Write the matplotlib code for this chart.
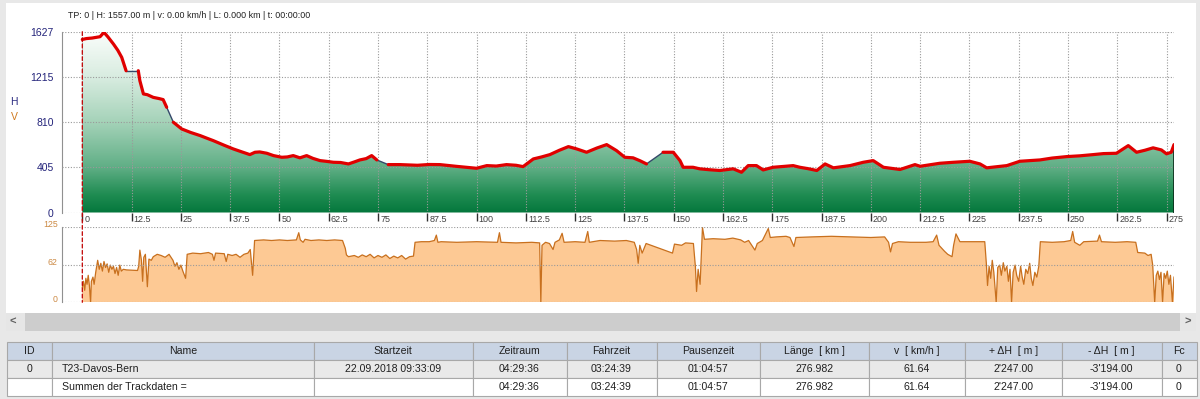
import matplotlib.pyplot as plt
import numpy as np
from matplotlib.colors import LinearSegmentedColormap
from matplotlib.patches import Rectangle, ConnectionPatch
from matplotlib.transforms import ScaledTranslation

plt.rcParams['font.family'] = ['Liberation Sans', 'DejaVu Sans']

# elevation profile (km, m)
elev_km = [0, 1.0, 2.5, 4.5, 5.5, 6.5, 7.9, 9.0, 10.0, 11.1, 14.2, 14.6, 15.5, 16.5, 18.0,
           19.5, 20.5, 21.4, 23.1, 25.2, 27.5, 29.9, 31.5, 33.2, 36.0, 38.3, 40.5, 42.5, 43.8,
           45.0, 46.8, 48.5, 50.6, 52.0, 53.5, 55.2, 56.9, 58.5, 60.3, 62.0, 63.7, 65.5, 67.5,
           69.0, 70.4, 72.0, 73.4, 74.7, 77.6, 80.6, 85.0, 88.0, 90.7, 95.0, 100.0, 102.6, 105.0,
           107.6, 110.0, 111.8, 114.4, 116.5, 118.6, 121.0, 123.3, 125.4, 127.9, 130.5, 133.0,
           135.5, 137.6, 139.7, 141.5, 143.1, 147.3, 149.9, 151.6, 152.4, 154.9, 156.6, 159.0,
           161.7, 165.1, 167.2, 168.9, 171.0, 172.7, 175.2, 178.0, 180.3, 182.0, 184.0, 186.3,
           188.4, 190.5, 194.7, 198.1, 200.6, 203.2, 207.4, 211.2, 212.5, 217.5, 221.0, 225.1,
           227.7, 229.4, 234.5, 237.8, 242.9, 246.0, 249.7, 253.0, 256.4, 259.0, 262.3, 265.3,
           267.4, 269.5, 271.6, 273.7, 275.0, 276.2, 276.9]
elev_m = [1557, 1565, 1570, 1582, 1621, 1580, 1516, 1460, 1396, 1276, 1276, 1186, 1067, 1060, 1036,
          1025, 1016, 947, 812, 752, 720, 692, 670, 647, 605, 572, 545, 521, 542,
          545, 533, 512, 497, 500, 512, 492, 512, 487, 467, 460, 452, 450, 437,
          455, 473, 485, 512, 473, 431, 431, 425, 432, 431, 415, 398, 422, 418,
          431, 425, 413, 482, 500, 521, 560, 593, 572, 542, 580, 611,
          557, 497, 492, 465, 437, 542, 542, 467, 407, 407, 393, 385,
          378, 393, 362, 422, 422, 383, 407, 415, 422, 407, 395, 378,
          437, 402, 422, 452, 467, 407, 387, 431, 416, 443, 452, 461,
          437, 402, 422, 461, 473, 490, 503, 510, 521, 530, 533, 602,
          542, 560, 582, 563, 528, 542, 611]
# km positions where the track has a gap (thin connector to the next point)
gap_starts = [11.1, 21.4, 74.7, 143.1]

# speed profile (km, km/h)
speed_km = [0.0, 0.3, 0.6, 0.9, 1.2, 1.5, 1.8, 2.1, 2.3, 2.7, 3.0, 3.4, 3.9, 4.3, 4.7, 5.1, 5.5,
            5.9, 6.3, 6.7, 7.1, 7.5, 7.9, 8.3, 8.7, 9.1, 9.5, 9.9, 10.4, 11.2, 14.0, 14.3, 14.6,
            15.0, 15.3, 15.6, 16.0, 16.5, 16.9, 17.5, 18.0, 19.0, 20.0, 21.0, 22.0, 23.0, 23.5,
            24.0, 24.5, 25.0, 25.5, 26.2, 26.6, 28.0, 30.0, 32.0, 33.0, 33.4, 33.8, 36.0, 36.5,
            36.9, 38.0, 39.0, 40.0, 41.0, 42.0, 42.6, 43.2, 43.7, 46.0, 48.0, 50.0, 52.0, 54.3,
            54.9, 55.3, 56.0, 56.5, 58.0, 60.0, 62.0, 64.0, 66.0, 66.7, 67.0, 67.5, 69.0, 70.0,
            71.0, 72.0, 73.0, 74.0, 75.0, 76.0, 77.0, 78.0, 79.0, 80.0, 81.0, 82.0, 83.0, 84.0,
            84.4, 86.0, 88.0, 89.3, 89.8, 90.2, 91.0, 95.0, 100.0, 105.3, 105.8, 106.2, 110.0,
            114.0, 116.0, 116.3, 116.6, 117.5, 118.5, 119.4, 119.9, 121.0, 121.7, 122.2, 125.0,
            127.5, 128.2, 128.6, 131.3, 135.0, 138.0, 140.0, 140.6, 141.0, 141.4, 142.0, 143.0,
            149.7, 150.2, 152.0, 153.0, 155.0, 155.5, 155.8, 156.2, 156.7, 157.3, 157.8, 160.0,
            163.0, 165.0, 167.0, 168.0, 169.0, 170.6, 171.2, 172.5, 174.0, 174.5, 176.0, 178.5,
            179.5, 180.5, 181.0, 185.0, 190.0, 195.0, 200.0, 203.5, 204.5, 205.0, 205.5, 207.0,
            210.0, 214.0, 215.8, 216.7, 217.3, 218.7, 219.5, 220.6, 221.0, 221.6, 222.6, 225.0,
            228.9, 229.3, 229.6, 230.0, 230.4, 230.8, 231.2, 231.8, 232.2, 232.7, 233.1, 233.6,
            234.0, 234.5, 234.9, 235.3, 235.7, 236.1, 236.6, 237.0, 237.5, 238.0, 238.4, 238.8,
            239.3, 239.8, 240.3, 240.7, 241.1, 241.6, 242.1, 242.6, 243.0, 246.0, 249.0, 250.7,
            251.2, 251.7, 253.0, 254.0, 257.5, 258.0, 258.5, 262.0, 265.0, 267.2, 267.7, 269.5,
            270.3, 271.1, 271.5, 272.0, 272.4, 272.8, 273.2, 273.6, 274.0, 274.4, 274.8, 275.2,
            275.6, 276.0, 276.5, 276.9]
speed_v = [25, 35, 20, 40, 30, 45, 28, 0, 35, 42, 30, 50, 70, 55, 65, 52, 68,
           58, 64, 50, 62, 55, 60, 48, 58, 45, 62, 52, 55, 54, 53, 60, 87,
           70, 35, 75, 80, 26, 72, 70, 76, 80, 78, 75, 80, 70, 60,
           66, 55, 62, 52, 40, 80, 82, 81, 83, 80, 70, 82, 81, 68,
           80, 78, 80, 75, 80, 82, 88, 45, 103, 104, 103, 104, 103, 104,
           116, 104, 100, 105, 103, 104, 103, 104, 103, 90, 79, 76, 78, 75,
           79, 76, 80, 74, 78, 75, 79, 73, 77, 74, 78, 72, 76, 77,
           100, 101, 101, 103, 112, 100, 101, 100, 101, 100, 116, 100, 99,
           100, 99, 0, 95, 100, 98, 88, 100, 104, 115, 100, 101,
           100, 118, 100, 103, 102, 103, 100, 88, 65, 95, 82, 98,
           82, 97, 95, 99, 98, 60, 18, 55, 30, 125, 105, 106,
           105, 107, 104, 100, 103, 87, 98, 103, 123, 108, 109, 110,
           108, 93, 108, 109, 110, 109, 108, 109, 100, 84, 98, 101,
           100, 100, 101, 112, 95, 85, 80, 76, 95, 114, 101, 101,
           101, 65, 28, 60, 40, 70, 50, 0, 58, 62, 45, 66,
           52, 60, 35, 55, 0, 50, 62, 45, 35, 60, 42, 30,
           55, 48, 65, 40, 28, 50, 42, 60, 101, 100, 101, 103,
           118, 100, 95, 101, 102, 112, 101, 100, 101, 100, 83, 82,
           78, 80, 62, 0, 45, 52, 38, 50, 0, 48, 40, 52,
           30, 45, 0, 42]

elev_ticks = [0, 405, 810, 1215, 1627]
speed_ticks = [0, 62, 125]
km_ticks = np.arange(0, 276, 12.5)

status_text = "TP: 0 | H: 1557.00 m | v: 0.00 km/h | L: 0.000 km | t: 00:00:00"

table_header = ["ID", "Name", "Startzeit", "Zeitraum", "Fahrzeit", "Pausenzeit",
                "Länge  [ km ]", "v  [ km/h ]", "+ ΔH  [ m ]", "- ΔH  [ m ]", "Fc"]
table_row1 = ["0", "T23-Davos-Bern", "22.09.2018 09:33:09", "04:29:36", "03:24:39", "01:04:57",
              "276.982", "61.64", "2'247.00", "-3'194.00", "0"]
table_row2 = ["", "Summen der Trackdaten =", "", "04:29:36", "03:24:39", "01:04:57",
              "276.982", "61.64", "2'247.00", "-3'194.00", "0"]
col_edges = [7, 52, 314, 472.5, 566.5, 656.5, 760, 869, 965, 1061.5, 1161.5, 1196.5]

W, H = 1200, 399
fig = plt.figure(figsize=(12, 3.99), dpi=100, facecolor='#e8e8e8')


def px_axes(x0, y0, x1, y1):
    return fig.add_axes([x0 / W, 1 - y1 / H, (x1 - x0) / W, (y1 - y0) / H])


# background panel, scrollbar and table in pixel space
bg = px_axes(0, 0, W, H)
bg.set_xlim(0, W)
bg.set_ylim(H, 0)
bg.axis('off')
bg.set_zorder(0)
bg.add_patch(Rectangle((6, 3), 1190, 310, facecolor='white', edgecolor='none'))
bg.add_patch(Rectangle((6, 313), 1190, 18, facecolor='#e6e6e6', edgecolor='none'))
bg.add_patch(Rectangle((25, 313), 1155, 18, facecolor='#cdcdcd', edgecolor='none'))
bg.text(13, 322, "<", ha='center', va='center', fontsize=8, color='#606060', fontweight='bold')
bg.text(1188, 322, ">", ha='center', va='center', fontsize=8, color='#606060', fontweight='bold')

row_tops = [342, 360, 378]
row_h = 18
row_colors = ['#c9d4e4', '#e9e9e9', 'white']
for r, (vals, top, fc) in enumerate(zip([table_header, table_row1, table_row2], row_tops, row_colors)):
    for c, val in enumerate(vals):
        x0, x1 = col_edges[c], col_edges[c + 1]
        bg.add_patch(Rectangle((x0, top), x1 - x0, row_h, facecolor=fc,
                               edgecolor='#a8a8a8', lw=0.8))
        if c == 1 and r > 0:
            bg.text(x0 + 10, top + row_h / 2, val, ha='left', va='center',
                    fontsize=7.6, color='#202020')
        else:
            bg.text((x0 + x1) / 2, top + row_h / 2, val, ha='center', va='center',
                    fontsize=7.6, color='#202020')

fig.text(68 / W, 1 - 15 / H, status_text, fontsize=6.4, color='#202020', va='center')
fig.text(14 / W, 1 - 102 / H, "H", fontsize=7.5, color='#2a2a80', ha='center', va='center')
fig.text(14 / W, 1 - 117 / H, "V", fontsize=7.5, color='#d07a20', ha='center', va='center')

grid_kw = dict(color='#9a9a9a', linestyle=(0, (1, 1.5)), linewidth=0.8)

# elevation chart
ax_e = px_axes(62, 31.7, 1174, 212.5)
ax_e.set_zorder(1)
ax_e.set_facecolor('none')
ax_e.set_xlim(-5.15, 276.9)
ax_e.set_ylim(0, 1627)

cmap = LinearSegmentedColormap.from_list('elev', [
    (0.0, '#04773c'), (0.1, '#1f8c52'), (0.25, '#5fae85'), (0.5, '#a4d2b8'),
    (0.75, '#d8ece0'), (1.0, '#fafdfb')])
poly = ax_e.fill_between(elev_km, elev_m, 0, facecolor='none', edgecolor='none')
grad = np.linspace(0, 1, 256).reshape(-1, 1)
img = ax_e.imshow(grad, extent=[0, elev_km[-1], 0, 1627], aspect='auto', origin='lower',
                  cmap=cmap, zorder=1)
img.set_clip_path(poly.get_paths()[0], transform=ax_e.transData)
ax_e.vlines(elev_km[-1], 0, elev_m[-1], color='#0c2a1a', lw=1.2, zorder=4)

# red track with thin connectors over gaps
start = 0
for i, k in enumerate(elev_km):
    if k in gap_starts:
        ax_e.plot(elev_km[start:i + 1], elev_m[start:i + 1], color='#e00000', lw=2.3,
                  solid_capstyle='round', solid_joinstyle='round', zorder=5)
        ax_e.plot(elev_km[i:i + 2], elev_m[i:i + 2], color='#34486a', lw=1.0, zorder=4)
        start = i + 1
ax_e.plot(elev_km[start:], elev_m[start:], color='#e00000', lw=2.3,
          solid_capstyle='round', solid_joinstyle='round', zorder=5)

ax_e.set_xticks(km_ticks)
ax_e.set_yticks(elev_ticks)
ax_e.set_yticklabels([str(t) for t in elev_ticks])
ax_e.grid(True, zorder=3, **grid_kw)
ax_e.set_axisbelow(False)
ax_e.tick_params(axis='x', direction='out', length=6, width=1, color='#303030', labelbottom=False)
ax_e.tick_params(axis='y', length=0, pad=6, labelsize=7.5, labelcolor='#23237a')
for s in ['top', 'right', 'bottom']:
    ax_e.spines[s].set_visible(False)
ax_e.spines['left'].set_color('#909090')
ax_e.spines['left'].set_linewidth(0.8)
for t in km_ticks:
    ax_e.annotate(f"{t:g}", xy=(t, 0), xycoords='data', xytext=(1.5, -1.5),
                  textcoords='offset points', ha='left', va='top', fontsize=6.5,
                  color='#404040', annotation_clip=False)

# speed chart
ax_v = px_axes(62, 227.3, 1174, 302.3)
ax_v.set_zorder(1)
ax_v.set_facecolor('none')
ax_v.set_xlim(-5.15, 276.9)
ax_v.set_ylim(0, 125)
ax_v.fill_between(speed_km, speed_v, 0, facecolor='#fdc994', edgecolor='none', zorder=1)
ax_v.plot(speed_km, speed_v, color='#c8701e', lw=0.9, zorder=2)
ax_v.set_xticks([])
ax_v.set_yticks(speed_ticks)
ax_v.set_yticklabels([str(t) for t in speed_ticks])
ax_v.grid(True, axis='y', zorder=3, **grid_kw)
ax_v.set_axisbelow(False)
ax_v.tick_params(axis='y', length=0, pad=3, labelsize=6.3, labelcolor='#cc8a45')
for lab in ax_v.get_yticklabels():
    lab.set_transform(lab.get_transform() + ScaledTranslation(0, 2.5 / 72, fig.dpi_scale_trans))
for s in ['top', 'right', 'bottom']:
    ax_v.spines[s].set_visible(False)
ax_v.spines['left'].set_color('#909090')
ax_v.spines['left'].set_linewidth(0.8)

# cursor line at km 0 across both charts
cursor = ConnectionPatch(xyA=(0, 1627), coordsA=ax_e.transData, xyB=(0, 0), coordsB=ax_v.transData,
                         color='#c00000', lw=0.9, linestyle=(0, (3, 2)), zorder=10)
fig.add_artist(cursor)

fig.savefig('out.png', dpi=100, facecolor=fig.get_facecolor())
